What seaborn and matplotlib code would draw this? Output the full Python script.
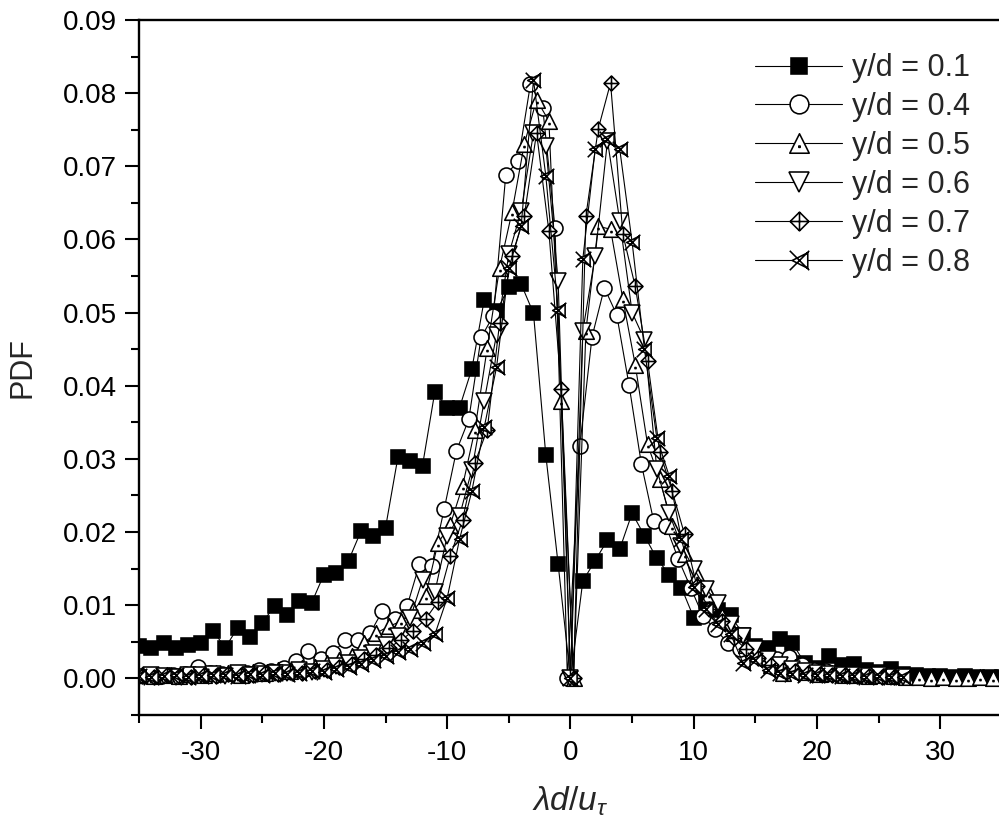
import numpy as np
import pandas as pd
import matplotlib
matplotlib.use("Agg")
import matplotlib.pyplot as plt
import seaborn as sns
from matplotlib.path import Path
from matplotlib.ticker import MultipleLocator, FormatStrFormatter

# ---------------- data ----------------
labels = ["y/d = 0.1", "y/d = 0.4", "y/d = 0.5", "y/d = 0.6", "y/d = 0.7", "y/d = 0.8"]

x_01 = np.arange(-35, 36)
y_01 = [0.0044, 0.0042, 0.0049, 0.0042, 0.0046, 0.0049, 0.0065, 0.0042, 0.0069, 0.0056,
        0.0076, 0.0099, 0.0086, 0.0106, 0.0103, 0.0142, 0.0144, 0.0161, 0.0201, 0.0195,
        0.0206, 0.0302, 0.0297, 0.0291, 0.0392, 0.0370, 0.0370, 0.0423, 0.0517, 0.0502,
        0.0535, 0.0539, 0.0499, 0.0305, 0.0156,
        0.0,
        0.0133, 0.0161, 0.0189, 0.0177, 0.0226, 0.0195, 0.0164, 0.0142, 0.0124, 0.0083,
        0.0104, 0.0094, 0.0087, 0.0059, 0.0044, 0.0041, 0.0054, 0.0048, 0.0021, 0.0014,
        0.0030, 0.0018, 0.0019, 0.0011, 0.0009, 0.0013, 0.0006, 0.0004, 0.0003, 0.0003,
        0.0002, 0.0003, 0.0002, 0.0002, 0.0002]

x_04 = np.arange(-34, 28) - 0.25
y_04 = [0.0004, 0.0003, 0.0005, 0.0006, 0.0016, 0.0007, 0.0006, 0.0008, 0.0008, 0.0012,
        0.0010, 0.0014, 0.0024, 0.0037, 0.0027, 0.0035, 0.0053, 0.0053, 0.0062, 0.0092,
        0.0081, 0.0099, 0.0156, 0.0154, 0.0231, 0.0311, 0.0354, 0.0466, 0.0496, 0.0688,
        0.0707, 0.0812, 0.0780, 0.0615, 0.0,
        0.0317, 0.0467, 0.0534, 0.0497, 0.0401, 0.0293, 0.0215, 0.0208, 0.0163, 0.0124,
        0.0085, 0.0067, 0.0049, 0.0040, 0.0033, 0.0028, 0.0026, 0.0029, 0.0018, 0.0012,
        0.0010, 0.0008, 0.0006, 0.0005, 0.0005, 0.0004, 0.0004]

x_05 = np.arange(-35, 35) + 0.25
y_05 = [0.0004, 0.0003, 0.0005, 0.0003, 0.0006, 0.0004, 0.0007, 0.0008, 0.0005, 0.0009,
        0.0008, 0.0012, 0.0010, 0.0014, 0.0016, 0.0021, 0.0025, 0.0031, 0.0049, 0.0062,
        0.0071, 0.0078, 0.0093, 0.0113, 0.0185, 0.0210, 0.0263, 0.0340, 0.0452, 0.0561,
        0.0637, 0.0730, 0.0791, 0.0762, 0.0379,
        0.0, 0.0475, 0.0618, 0.0614, 0.0518, 0.0429, 0.0320, 0.0272, 0.0208, 0.0170,
        0.0142, 0.0115, 0.0085, 0.0062, 0.0045, 0.0035, 0.0018, 0.0008, 0.0015, 0.0009,
        0.0006, 0.0008, 0.0004, 0.0005, 0.0003, 0.0004, 0.0003, 0.0002, 0.0002, 0.0001,
        0.0002, 0.0001, 0.0001, 0.0002, 0.0001]

x_06 = np.arange(-35, 28)
y_06 = [0.0002, 0.0004, 0.0003, 0.0002, 0.0005, 0.0004, 0.0006, 0.0003, 0.0007, 0.0005,
        0.0006, 0.0008, 0.0007, 0.0011, 0.0009, 0.0013, 0.0017, 0.0021, 0.0028, 0.0035,
        0.0045, 0.0058, 0.0082, 0.0135, 0.0118, 0.0195, 0.0222, 0.0285, 0.0379, 0.0470,
        0.0580, 0.0639, 0.0746, 0.0728, 0.0543,
        0.0, 0.0475, 0.0577, 0.0735, 0.0625, 0.0500, 0.0463, 0.0286, 0.0226, 0.0181,
        0.0150, 0.0122, 0.0103, 0.0075, 0.0058, 0.0040, 0.0027, 0.0018, 0.0013, 0.0010,
        0.0007, 0.0006, 0.0005, 0.0004, 0.0003, 0.0004, 0.0002, 0.0002]

x_07 = np.arange(-35, 27) + 0.25
y_07 = [0.0003, 0.0002, 0.0004, 0.0003, 0.0002, 0.0005, 0.0003, 0.0006, 0.0004, 0.0005,
        0.0007, 0.0006, 0.0009, 0.0008, 0.0010, 0.0012, 0.0015, 0.0020, 0.0026, 0.0032,
        0.0042, 0.0052, 0.0065, 0.0081, 0.0105, 0.0167, 0.0217, 0.0295, 0.0340, 0.0486,
        0.0577, 0.0632, 0.0746, 0.0611, 0.0395,
        0.0, 0.0632, 0.0751, 0.0814, 0.0607, 0.0536, 0.0434, 0.0309, 0.0256, 0.0197,
        0.0126, 0.0095, 0.0078, 0.0055, 0.0040, 0.0028, 0.0018, 0.0012, 0.0010, 0.0007,
        0.0006, 0.0005, 0.0004, 0.0003, 0.0003, 0.0002, 0.0002]

x_08 = np.arange(-35, 28)
y_08 = [0.0003, 0.0002, 0.0003, 0.0004, 0.0002, 0.0003, 0.0005, 0.0004, 0.0003, 0.0006,
        0.0005, 0.0007, 0.0006, 0.0008, 0.0010, 0.0009, 0.0013, 0.0016, 0.0019, 0.0025,
        0.0030, 0.0036, 0.0040, 0.0048, 0.0060, 0.0110, 0.0190, 0.0256, 0.0343, 0.0425,
        0.0561, 0.0618, 0.0818, 0.0687, 0.0504,
        0.0, 0.0573, 0.0723, 0.0737, 0.0723, 0.0596, 0.0450, 0.0329, 0.0277, 0.0190,
        0.0125, 0.0095, 0.0075, 0.0060, 0.0021, 0.0025, 0.0012, 0.0008, 0.0006, 0.0005,
        0.0004, 0.0005, 0.0003, 0.0003, 0.0002, 0.0003, 0.0002, 0.0002]

x_ticks = [-30, -20, -10, 0, 10, 20, 30]
y_ticks = [0.00, 0.01, 0.02, 0.03, 0.04, 0.05, 0.06, 0.07, 0.08, 0.09]

# ---------------- custom markers ----------------
M, L, C = Path.MOVETO, Path.LINETO, Path.CLOSEPOLY
d = 0.07
tri_dot = Path([(0, 1), (-1, -1), (1, -1), (0, 1),
                (-d, -0.33 - d), (d, -0.33 - d), (d, -0.33 + d), (-d, -0.33 + d), (-d, -0.33 - d)],
               [M, L, L, C, M, L, L, L, C])
dia_plus = Path([(0, 1), (1, 0), (0, -1), (-1, 0), (0, 1),
                 (0, 1), (0, -1), (-1, 0), (1, 0)],
                [M, L, L, L, C, M, L, M, L])
x_tri = Path([(-0.75, 0), (0.85, 0.8), (0.85, -0.8), (-0.75, 0),
              (-1, 1), (1, -1), (-1, -1), (1, 1)],
             [M, L, L, C, M, L, M, L])

styles = [("s", "black", 9.6), ("o", "white", 10.8), (tri_dot, "white", 11.2),
          ("v", "white", 11.2), (dia_plus, "white", 10.8), (x_tri, "white", 11.2)]
xs_all = [x_01, x_04, x_05, x_06, x_07, x_08]
ys_all = [y_01, y_04, y_05, y_06, y_07, y_08]

# ---------------- plot ----------------
sns.set_theme(style="ticks")
plt.rcParams["font.family"] = ["Liberation Sans", "DejaVu Sans"]
plt.rcParams["mathtext.fontset"] = "custom"
plt.rcParams["mathtext.it"] = "Liberation Sans:italic"
plt.rcParams["mathtext.rm"] = "Liberation Sans"
plt.rcParams["axes.unicode_minus"] = False

fig = plt.figure(figsize=(9.99, 8.33), dpi=100)
ax = fig.add_axes([0.1391, 0.1417, 0.8639, 0.8343])

for lab, xs, ys, (mk, fc, ms) in zip(labels, xs_all, ys_all, styles):
    assert len(xs) == len(ys), lab
    df = pd.DataFrame({"x": xs, "y": ys})
    sns.lineplot(data=df, x="x", y="y", ax=ax, estimator=None, sort=True,
                 color="black", linewidth=0.8, marker=mk, markersize=ms,
                 markerfacecolor=fc, markeredgecolor="black", markeredgewidth=1.15,
                 label=lab)

ax.set_xlim(-35, 35)
ax.set_ylim(-0.005, 0.09)
ax.xaxis.set_major_locator(MultipleLocator(10))
ax.xaxis.set_minor_locator(MultipleLocator(5))
ax.yaxis.set_major_locator(MultipleLocator(0.01))
ax.yaxis.set_minor_locator(MultipleLocator(0.005))
ax.set_xticks(x_ticks)
ax.set_yticks(y_ticks)
ax.yaxis.set_major_formatter(FormatStrFormatter("%.2f"))

ax.tick_params(which="major", direction="out", length=10, width=1.5, labelsize=20,
               colors="black", pad=6)
ax.tick_params(which="minor", direction="out", length=5.5, width=1.5, colors="black")
ax.tick_params(axis="x", which="major", pad=8)
for s in ax.spines.values():
    s.set_linewidth(1.7)
    s.set_color("black")

ax.set_ylabel("PDF", fontsize=22)
ax.set_xlabel(r"$\lambda d/u_\tau$", fontsize=24)
ax.yaxis.set_label_coords(-0.117, 0.5)
ax.xaxis.set_label_coords(0.5, -0.1)

ax.legend(loc="upper left", bbox_to_anchor=(0.7558, 0.9360), bbox_transform=fig.transFigure,
          frameon=False, fontsize=22, handlelength=2.85, handletextpad=0.33,
          labelspacing=0.29, markerscale=1.25, borderpad=0, borderaxespad=0)

fig.savefig("out.png", dpi=100)
